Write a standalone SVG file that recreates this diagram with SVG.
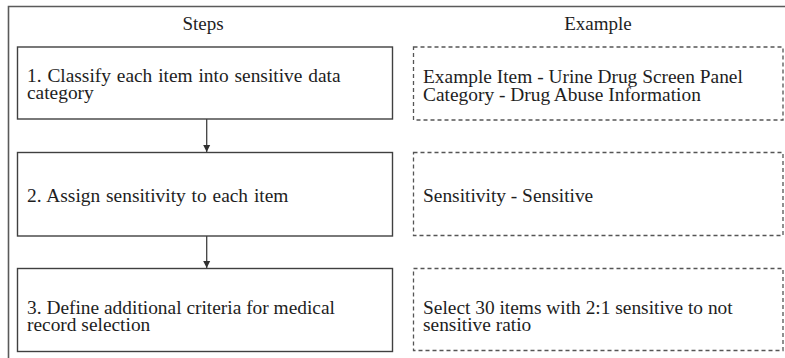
<svg xmlns="http://www.w3.org/2000/svg" width="785" height="358" viewBox="0 0 785 358">
  <style>
    .frame { fill: none; stroke: #5a5a5a; stroke-width: 1.6; }
    .step { fill: #ffffff; stroke: #404040; stroke-width: 1.4; }
    .example { fill: #ffffff; stroke: #555555; stroke-width: 1.3; stroke-dasharray: 4 3; }
    .label { font-family: "Liberation Serif", "Times New Roman", serif; font-size: 19.4px; fill: #1e1e1e; }
    .head { text-anchor: middle; font-size: 19px; }
    .wide { word-spacing: 1px; }
    .conn { stroke: #404040; stroke-width: 1.3; fill: none; }
  </style>
  <defs>
    <marker id="arrowhead" markerWidth="8" markerHeight="8" refX="7" refY="4" orient="auto" markerUnits="userSpaceOnUse">
      <path d="M0,0.5 L7,4 L0,7.5 Z" fill="#303030"/>
    </marker>
  </defs>
  <rect width="785" height="358" fill="#ffffff"/>

  <!-- outer frame (top and left edges) -->
  <path class="frame" d="M8.5,358 V6.5 H785"/>

  <!-- column headers -->
  <text class="label head" x="203" y="29.5">Steps</text>
  <text class="label head" x="598" y="29.5">Example</text>

  <!-- connectors -->
  <g id="connectors">
    <line class="conn" x1="206.7" y1="119" x2="206.7" y2="152" marker-end="url(#arrowhead)"/>
    <line class="conn" x1="206.7" y1="236" x2="206.7" y2="268" marker-end="url(#arrowhead)"/>
  </g>

  <!-- step boxes -->
  <g id="step1">
    <rect class="step" x="17.5" y="47" width="375" height="72"/>
    <text class="label"><tspan class="wide" x="27" y="81.5">1. Classify each item into sensitive data</tspan><tspan x="27" y="99">category</tspan></text>
  </g>
  <g id="step2">
    <rect class="step" x="17.5" y="152.5" width="375" height="83.5"/>
    <text class="label wide" x="27" y="201.5">2. Assign sensitivity to each item</text>
  </g>
  <g id="step3">
    <rect class="step" x="17.5" y="268.5" width="375" height="83"/>
    <text class="label"><tspan x="27" y="313.5">3. Define additional criteria for medical</tspan><tspan x="27" y="330.5">record selection</tspan></text>
  </g>

  <!-- example boxes -->
  <g id="example1">
    <rect class="example" x="413.5" y="47" width="369.5" height="73"/>
    <text class="label"><tspan x="423" y="83">Example Item - Urine Drug Screen Panel</tspan><tspan x="423" y="101">Category - Drug Abuse Information</tspan></text>
  </g>
  <g id="example2">
    <rect class="example" x="413.5" y="152.5" width="369.5" height="83"/>
    <text class="label" x="423" y="201.5">Sensitivity - Sensitive</text>
  </g>
  <g id="example3">
    <rect class="example" x="413.5" y="268.5" width="369.5" height="82"/>
    <text class="label"><tspan x="423" y="313.5">Select 30 items with 2:1 sensitive to not</tspan><tspan x="423" y="330.5">sensitive ratio</tspan></text>
  </g>
</svg>
